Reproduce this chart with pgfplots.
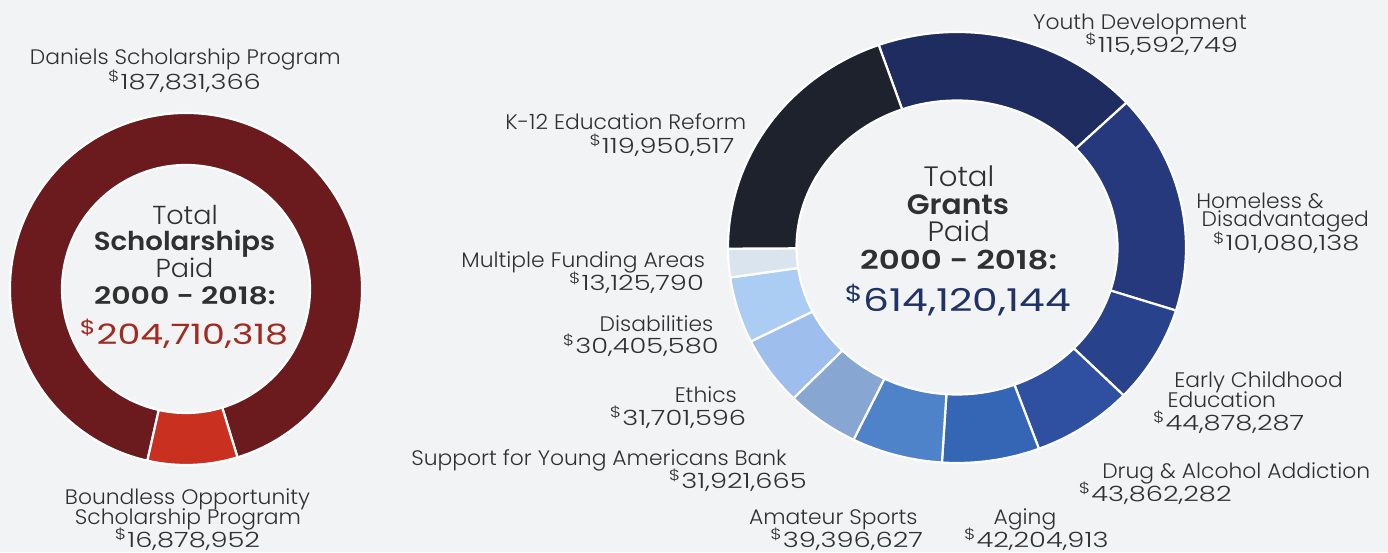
\documentclass[border=0pt]{standalone}
\usepackage{fontspec}
\setmainfont{Poppins}[FakeStretch=1.04]
\newfontfamily\lightfont{Poppins Light}[FakeStretch=1.04]
\newfontfamily\semifont{Poppins SemiBold}[FakeStretch=1.06]
\newfontfamily\numfont{Poppins Light}[FakeStretch=1.3]
\newfontfamily\numreg{Poppins}[FakeStretch=1.3]
\newfontfamily\yearfont{Poppins SemiBold}[FakeStretch=1.25]
\usepackage{graphicx}
\usepackage{pgfplots}
\usepackage{pgfplotstable}
\pgfplotsset{compat=1.18}

\definecolor{bg}{HTML}{F2F3F5}
\definecolor{txt}{HTML}{303030}
\definecolor{redval}{HTML}{A32A1F}
\definecolor{blueval}{HTML}{1F3366}
% scholarships
\definecolor{daniels}{HTML}{6B1A1D}
\definecolor{boundless}{HTML}{C93020}
% grants
\definecolor{youth}{HTML}{1F2C5F}
\definecolor{homeless}{HTML}{25397C}
\definecolor{early}{HTML}{28428C}
\definecolor{drug}{HTML}{2F4FA0}
\definecolor{aging}{HTML}{3565B5}
\definecolor{sports}{HTML}{4E82C9}
\definecolor{syab}{HTML}{88A6D2}
\definecolor{ethics}{HTML}{9EBFEE}
\definecolor{disab}{HTML}{ABCDF4}
\definecolor{multi}{HTML}{D9E4EF}
\definecolor{kedu}{HTML}{1D222D}

% scholarships paid 2000-2018 (counter-clockwise from bottom right)
\pgfplotstableread{
name value color
Daniels 187831366 daniels
Boundless 16878952 boundless
}\scholar

% grants paid 2000-2018 (clockwise from top)
\pgfplotstableread{
name value color
Youth 115592749 youth
Homeless 101080138 homeless
EarlyChildhood 44878287 early
DrugAlcohol 43862282 drug
Aging 42204913 aging
AmateurSports 39396627 sports
SupportYAB 31921665 syab
Ethics 31701596 ethics
Disabilities 30405580 disab
MultipleFunding 13125790 multi
K12 119950517 kedu
}\grants

% #1 table, #2 direction (+1/-1), #3 #4 centre, #5 #6 outer radii (pt), #7 #8 inner radii (pt), #9 start angle
\newcommand\drawring[9]{%
  \pgfplotstablegetrowsof{#1}%
  \pgfmathtruncatemacro\lastrow{\pgfplotsretval-1}%
  \def\ringsum{0}%
  \pgfplotsforeachungrouped \rowi in {0,...,\lastrow}{%
    \pgfplotstablegetelem{\rowi}{value}\of{#1}%
    \edef\ringsum{\fpeval{\ringsum+\pgfplotsretval}}%
  }%
  \def\cum{0}%
  \pgfplotsforeachungrouped \rowi in {0,...,\lastrow}{%
    \pgfplotstablegetelem{\rowi}{value}\of{#1}\let\val\pgfplotsretval
    \pgfplotstablegetelem{\rowi}{color}\of{#1}\let\col\pgfplotsretval
    \edef\aA{\fpeval{#9+#2*360*\cum/\ringsum}}%
    \edef\cum{\fpeval{\cum+\val}}%
    \edef\aB{\fpeval{#9+#2*360*\cum/\ringsum}}%
    \edef\seg{\noexpand\filldraw[fill=\col,draw=white,line width=1.1pt,line join=round]
      ([shift={(\aA:#5pt and #6pt)}]axis cs:#3,#4)
      arc[start angle=\aA,end angle=\aB,x radius=#5pt,y radius=#6pt]
      -- ([shift={(\aB:#7pt and #8pt)}]axis cs:#3,#4)
      arc[start angle=\aB,end angle=\aA,x radius=#7pt,y radius=#8pt] -- cycle;}%
    \seg
  }%
}

\tikzset{
  lbl/.style={anchor=base, inner sep=0pt, text=txt, font=\lightfont\fontsize{10.5}{12}\selectfont},
  num/.style={anchor=base, inner sep=0pt, text=txt, font=\numfont\fontsize{10.5}{12}\selectfont},
  ctr/.style={anchor=base, inner sep=0pt, text=txt},
}
\newcommand\dol{\smash{\textsuperscript{\$}}}
\newcommand\lab[3]{\node[lbl] at (axis cs:#1,#2) {#3};}
\newcommand\amt[3]{\node[num] at (axis cs:#1,#2) {\dol#3};}

\begin{document}
\begin{tikzpicture}
\begin{axis}[
    name=ax,
    x=0.5pt, y=0.5pt,
    xmin=0, xmax=1388, ymin=0, ymax=552,
    hide axis, clip=false,
]
\fill[bg] (rel axis cs:0,0) rectangle (rel axis cs:1,1);

\drawring{\scholar}{1}{186}{263}{88}{88}{62}{62}{287}
\drawring{\grants}{-1}{957}{304.5}{114.5}{107.75}{80.25}{73.5}{110}

% scholarships
\lab{185.3}{487}{Daniels Scholarship Program}
\amt{184.5}{462.7}{187,831,366}
\lab{187.5}{47}{Boundless Opportunity}
\lab{188}{27}{Scholarship Program}
\amt{187.5}{4.5}{16,878,952}
\node[ctr, font=\lightfont\fontsize{13}{15}\selectfont] at (axis cs:185,327.7) {Total};
\node[ctr, font=\semifont\fontsize{13}{15}\selectfont] at (axis cs:184.5,301.3) {Scholarships};
\node[ctr, font=\lightfont\fontsize{13}{15}\selectfont] at (axis cs:184.5,274) {Paid};
\node[ctr, font=\yearfont\fontsize{12}{15}\selectfont] at (axis cs:185,247.7) {2000 - 2018:};
\node[ctr, text=redval, font=\numreg\fontsize{14}{18}\selectfont] at (axis cs:184,207) {\dol204,710,318};

% grants
\node[ctr, font=\lightfont\fontsize{14}{16}\selectfont] at (axis cs:959,365.3) {Total};
\node[ctr, font=\semifont\fontsize{14}{16}\selectfont] at (axis cs:958,337.7) {Grants};
\node[ctr, font=\lightfont\fontsize{14}{16}\selectfont] at (axis cs:958.7,310.3) {Paid};
\node[ctr, font=\yearfont\fontsize{13}{16}\selectfont] at (axis cs:958.7,282) {2000 - 2018:};
\node[ctr, text=blueval, font=\numreg\fontsize{15.7}{19}\selectfont] at (axis cs:958,240.3) {\dol614,120,144};

\lab{1140}{522.7}{Youth Development}
\amt{1161.7}{499.3}{115,592,749}
\lab{625.8}{422}{K-12 Education Reform}
\amt{662}{398.7}{119,950,517}
\lab{1260}{343.7}{Homeless \&}
\lab{1285.3}{325.3}{Disadvantaged}
\amt{1286.3}{301}{101,080,138}
\lab{583.3}{284.7}{Multiple Funding Areas}
\amt{636.5}{261}{13,125,790}
\lab{656.5}{220.3}{Disabilities}
\amt{640.8}{198.7}{30,405,580}
\lab{1258.7}{164.7}{Early Childhood}
\lab{1221.7}{144.3}{Education}
\amt{1228.7}{121.3}{44,878,287}
\lab{705.8}{149.3}{Ethics}
\amt{678}{126.3}{31,701,596}
\lab{599}{86.3}{Support for Young Americans Bank}
\amt{737.8}{63.7}{31,921,665}
\lab{1236.2}{73.7}{Drug \& Alcohol Addiction}
\amt{1155.3}{50.3}{43,862,282}
\lab{833.3}{27.7}{Amateur Sports}
\amt{846.7}{4.7}{39,396,627}
\lab{1025}{27.7}{Aging}
\amt{1036.3}{4.7}{42,204,913}
\end{axis}
\pgfresetboundingbox
\path (ax.south west) rectangle (ax.north east);
\end{tikzpicture}
\end{document}
